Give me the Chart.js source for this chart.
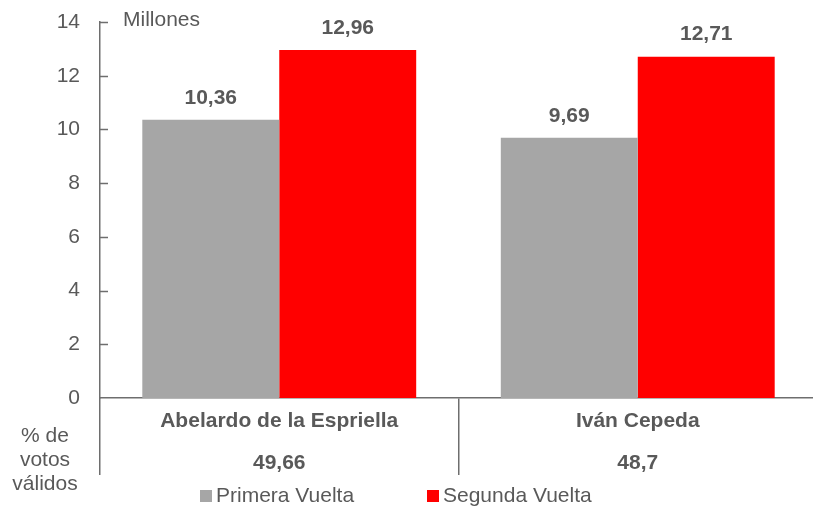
<!DOCTYPE html>
<html>
<head>
<meta charset="utf-8">
<script src="https://cdn.jsdelivr.net/npm/chart.js@4.4.1/dist/chart.umd.min.js"></script>
<style>
  html, body { margin: 0; padding: 0; background: #fff; overflow: hidden; }
  #wrap { width: 817px; height: 507px; position: relative; }
</style>
</head>
<body>
<div id="wrap"><canvas id="c"></canvas></div>
<script>
// Votos por candidato, primera y segunda vuelta (millones)
const candidatos = ["Abelardo de la Espriella", "Iván Cepeda"];
const pctVotos = ["49,66", "48,7"];
const primeraVuelta = [10.36, 9.69];
const segundaVuelta = [12.96, 12.71];
const serieNombres = ["Primera Vuelta", "Segunda Vuelta"];
const serieColores = ["#a6a6a6", "#ff0000"];
const yTicks = { min: 0, max: 14, step: 2 };

const FONT = "'Liberation Sans', Arial, sans-serif";
const TXT = "#595959";
const AXIS = "#6e6e6e";

function fmt(v) { return v.toFixed(2).replace(".", ","); }

const extras = {
  id: "extras",
  afterDatasetsDraw(chart) {
    const ctx = chart.ctx;
    const y = chart.scales.y;
    ctx.save();
    // ticks pointing inward
    ctx.strokeStyle = AXIS; ctx.lineWidth = 1.5;
    y.ticks.forEach(t => {
      if (t.value === 0) return;
      const py = Math.round(y.getPixelForValue(t.value)) + 0.5;
      ctx.beginPath(); ctx.moveTo(y.right, py); ctx.lineTo(y.right + 8, py); ctx.stroke();
    });
    // value labels
    ctx.fillStyle = TXT;
    ctx.font = "bold 21px " + FONT;
    ctx.textAlign = "center"; ctx.textBaseline = "middle";
    chart.data.datasets.forEach((ds, i) => {
      chart.getDatasetMeta(i).data.forEach((bar, j) => {
        ctx.fillText(fmt(ds.data[j]), bar.x, bar.y - 22);
      });
    });
    // unit
    ctx.font = "21px " + FONT;
    ctx.textAlign = "left";
    ctx.fillText("Millones", 123, 20);
    // row header
    ctx.textAlign = "center";
    ["% de", "votos", "válidos"].forEach((s, k) => ctx.fillText(s, 45, 436 + k * 24));
    // legend
    let lx = 200;
    ctx.textAlign = "left";
    chart.data.datasets.forEach((ds, i) => {
      ctx.fillStyle = ds.backgroundColor;
      ctx.fillRect(lx, 490, 12, 12);
      ctx.fillStyle = TXT;
      ctx.fillText(ds.label, lx + 16, 496);
      lx += 227;
    });
    ctx.restore();
  }
};

new Chart(document.getElementById("c"), {
  type: "bar",
  data: {
    labels: candidatos.map((c, i) => [c, pctVotos[i]]),
    datasets: [
      { label: serieNombres[0], data: primeraVuelta, backgroundColor: serieColores[0] },
      { label: serieNombres[1], data: segundaVuelta, backgroundColor: serieColores[1] },
    ],
  },
  options: {
    responsive: true, maintainAspectRatio: false, animation: false,
    categoryPercentage: 0.764, barPercentage: 1,
    layout: { padding: { top: 22, left: 0, right: 0, bottom: 0 } },
    plugins: { legend: { display: false }, tooltip: { enabled: false } },
    scales: {
      x: {
        grid: { offset: true, drawOnChartArea: false, drawTicks: true, tickLength: 77, color: AXIS, lineWidth: 1.5 },
        border: { display: true, color: AXIS, width: 1.5 },
        ticks: { color: TXT, padding: -75, font: { family: FONT, size: 21, weight: "bold", lineHeight: "42px" } },
        afterFit: s => { s.height = 109; s.paddingLeft = 0; s.paddingRight = 0; },
      },
      y: {
        min: yTicks.min, max: yTicks.max,
        grid: { display: false, drawTicks: false },
        border: { display: true, color: AXIS, width: 1.5 },
        ticks: { stepSize: yTicks.step, color: TXT, padding: 20, font: { family: FONT, size: 21 } },
        afterFit: s => { s.width = 100; s.paddingTop = 0; s.paddingBottom = 0; },
      },
    },
  },
  plugins: [extras],
});
</script>
</body>
</html>
